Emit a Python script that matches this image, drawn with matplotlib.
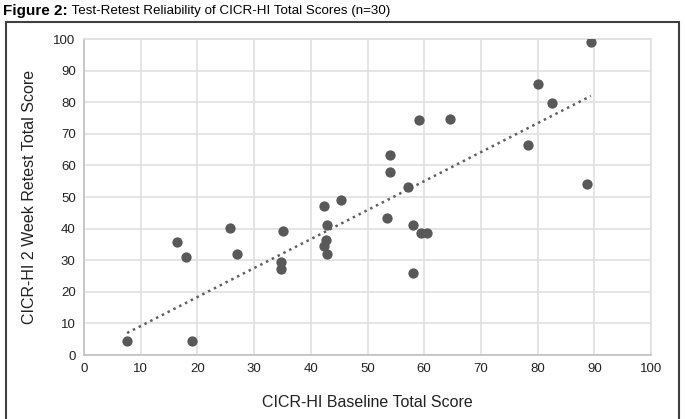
import numpy as np
import matplotlib
matplotlib.use("Agg")
import matplotlib.pyplot as plt
from matplotlib.patches import Rectangle

# baseline vs 2 week retest scores
baseline = [7.6, 19.0, 16.4, 18.0, 25.7, 27.0, 35.1, 34.7, 34.7, 42.3,
            45.3, 42.9, 42.6, 42.3, 42.9, 53.4, 53.9, 54.0, 57.2, 59.0,
            64.6, 78.3, 80.0, 82.5, 89.4, 88.7, 58.1, 59.4, 60.5, 58.0]
retest = [4.4, 4.4, 35.8, 31.0, 40.2, 32.0, 39.2, 29.4, 27.2, 47.2,
          49.0, 41.0, 36.4, 34.5, 32.0, 43.4, 63.3, 57.9, 53.2, 74.5,
          74.6, 66.4, 85.7, 79.8, 99.1, 54.2, 41.2, 38.6, 38.6, 25.9]

# trendline as shown in the figure (slope, intercept)
trend_slope = 0.917
trend_intercept = 0.0

xticks = list(range(0, 101, 10))
yticks = list(range(0, 101, 10))

plt.rcParams['font.family'] = ['Liberation Sans', 'DejaVu Sans']

fig = plt.figure(figsize=(6.85, 4.19), dpi=100)
ax = fig.add_axes([84 / 685, 1 - 355 / 419, (651 - 84) / 685, (355 - 39) / 419])

x = np.array(baseline)
y = np.array(retest)

# linear trend line over the data range
xl = np.array([x.min(), x.max()])
ax.plot(xl, trend_slope * xl + trend_intercept, color='#606060',
        linestyle=(0, (1, 1.6)), linewidth=1.8, zorder=2)

ax.scatter(x, y, s=55, color='#595959', zorder=3, linewidths=0)

ax.set_xlim(0, 100)
ax.set_ylim(0, 100)
ax.set_xticks(xticks)
ax.set_yticks(yticks)
ax.grid(True, color='#e0e0e0', linewidth=1.2)
ax.set_axisbelow(True)
ax.tick_params(length=0, labelsize=9.5, colors='#222222', pad=6)
for side in ['top', 'right']:
    ax.spines[side].set_color('#e0e0e0')
for side in ['left', 'bottom']:
    ax.spines[side].set_color('#c0c0c0')
for s in ax.spines.values():
    s.set_linewidth(1.2)

fig.text(367 / 685, 1 - 402 / 419, 'CICR-HI Baseline Total Score',
         ha='center', va='center', fontsize=11.5, color='#222222')
fig.text(30 / 685, 1 - 197 / 419, 'CICR-HI 2 Week Retest Total Score',
         ha='center', va='center', rotation=90, fontsize=11.5, color='#222222')

# outer chart border
fig.patches.append(Rectangle((6 / 685, -0.02), (679 - 6) / 685, 1 - 22 / 419 + 0.02,
                             transform=fig.transFigure, fill=False,
                             edgecolor='#404040', linewidth=1.5))

t1 = fig.text(3 / 685, 1 - 11 / 419, 'Figure 2:', fontweight='bold',
              fontsize=11, va='center', ha='left', color='black')
ax.annotate(' Test-Retest Reliability of CICR-HI Total Scores (n=30)',
            xy=(1, 0.5), xycoords=t1, va='center', ha='left',
            fontsize=9.6, color='black', annotation_clip=False)

fig.savefig('out.png', dpi=100)
